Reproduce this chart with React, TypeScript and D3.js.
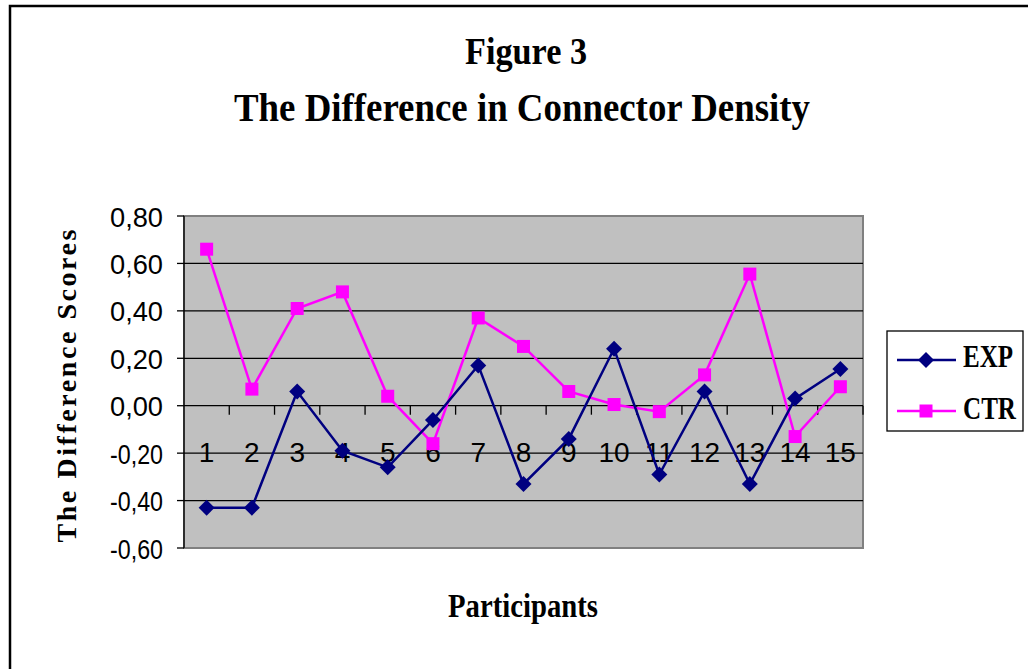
import * as d3 from 'd3';
import React from 'react';

const participants = ['1', '2', '3', '4', '5', '6', '7', '8', '9', '10', '11', '12', '13', '14', '15'];
const expScores = [-0.43, -0.43, 0.06, -0.19, -0.26, -0.06, 0.17, -0.33, -0.14, 0.24, -0.29, 0.06, -0.33, 0.03, 0.155];
const ctrScores = [0.66, 0.07, 0.41, 0.48, 0.04, -0.16, 0.37, 0.25, 0.06, 0.005, -0.025, 0.13, 0.555, -0.13, 0.08];
const yTicks = [-0.6, -0.4, -0.2, 0, 0.2, 0.4, 0.6, 0.8];

const W = 1028;
const H = 669;
const plot = { left: 184, right: 863, top: 216, bottom: 548 };
const serif = '"Liberation Serif", "DejaVu Serif", serif';
const sans = '"Liberation Sans", Arial, sans-serif';

export default function App() {
  const x = d3
    .scaleBand()
    .domain(participants)
    .range([plot.left, plot.right]);
  const y = d3.scaleLinear().domain([-0.6, 0.8]).range([plot.bottom, plot.top]);
  const fmt = (v: number) => d3.format('.2f')(v).replace('.', ',').replace('−', '-');

  const line = d3
    .line<number>()
    .x((_, i) => (x(participants[i]) as number) + x.bandwidth() / 2)
    .y((d) => y(d));

  const diamond = (cx: number, cy: number, r: number) =>
    `M${cx},${cy - r}L${cx + r},${cy}L${cx},${cy + r}L${cx - r},${cy}Z`;

  return (
    <svg width={W} height={H} style={{ position: 'absolute', left: 0, top: 0, background: '#fff' }}>
      <rect x={10} y={6} width={W + 10} height={H + 10} fill="#fff" stroke="#000" strokeWidth={2.5} />

      <text x={526} y={64} textAnchor="middle" fontFamily={serif} fontWeight="bold" fontSize={38}
        textLength={122} lengthAdjust="spacingAndGlyphs">
        Figure 3
      </text>
      <text x={522} y={121} textAnchor="middle" fontFamily={serif} fontWeight="bold" fontSize={39}
        textLength={576} lengthAdjust="spacingAndGlyphs">
        The Difference in Connector Density
      </text>

      <rect
        x={plot.left}
        y={plot.top}
        width={plot.right - plot.left}
        height={plot.bottom - plot.top}
        fill="#C0C0C0"
        stroke="#808080"
        strokeWidth={2}
      />
      {yTicks.map((t) => (
        <g key={t}>
          {t > -0.6 && t < 0.8 && (
            <line x1={plot.left} x2={plot.right} y1={y(t)} y2={y(t)} stroke="#000" strokeWidth={1.3} />
          )}
          <line x1={plot.left - 7} x2={plot.left} y1={y(t)} y2={y(t)} stroke="#000" strokeWidth={1.3} />
          <text x={163} y={y(t) + 10.5} textAnchor="end" fontFamily={sans} fontSize={28}
            textLength={53} lengthAdjust="spacingAndGlyphs">
            {fmt(t)}
          </text>
        </g>
      ))}
      <line x1={plot.left} x2={plot.left} y1={plot.top} y2={plot.bottom} stroke="#000" strokeWidth={1.3} />

      {participants.map((p, i) => (
        <g key={p}>
          {i > 0 && (
            <line x1={x(p)} x2={x(p)} y1={y(0)} y2={y(0) + 9} stroke="#000" strokeWidth={1.3} />
          )}
          <text
            x={(x(p) as number) + x.bandwidth() / 2}
            y={y(0) + 56}
            textAnchor="middle"
            fontFamily={sans}
            fontSize={28}
          >
            {p}
          </text>
        </g>
      ))}
      <line x1={plot.right} x2={plot.right} y1={y(0)} y2={y(0) + 9} stroke="#000" strokeWidth={1.3} />

      <path d={line(ctrScores) || ''} fill="none" stroke="#FF00FF" strokeWidth={2.5} />
      {ctrScores.map((v, i) => (
        <rect
          key={i}
          x={(x(participants[i]) as number) + x.bandwidth() / 2 - 6.5}
          y={y(v) - 6.5}
          width={13}
          height={13}
          fill="#FF00FF"
        />
      ))}
      <path d={line(expScores) || ''} fill="none" stroke="#000080" strokeWidth={2.5} />
      {expScores.map((v, i) => (
        <path key={i} d={diamond((x(participants[i]) as number) + x.bandwidth() / 2, y(v), 8)} fill="#000080" />
      ))}

      <text
        transform={`translate(76,386) rotate(-90)`}
        textAnchor="middle"
        fontFamily={serif}
        fontWeight="bold"
        fontSize={28}
        textLength={313}
        lengthAdjust="spacing"
      >
        The Difference Scores
      </text>
      <text x={523} y={617} textAnchor="middle" fontFamily={serif} fontWeight="bold" fontSize={33}
        textLength={150} lengthAdjust="spacingAndGlyphs">
        Participants
      </text>

      <rect x={887} y={331} width={136} height={100} fill="#fff" stroke="#000" strokeWidth={1.3} />
      <line x1={897} x2={956} y1={360} y2={360} stroke="#000080" strokeWidth={2.5} />
      <path d={diamond(926, 360, 8)} fill="#000080" />
      <text x={963} y={367} fontFamily={serif} fontWeight="bold" fontSize={31} textLength={50}
        lengthAdjust="spacingAndGlyphs">
        EXP
      </text>
      <line x1={897} x2={956} y1={411} y2={411} stroke="#FF00FF" strokeWidth={2.5} />
      <rect x={919.5} y={404.5} width={13} height={13} fill="#FF00FF" />
      <text x={963} y={419} fontFamily={serif} fontWeight="bold" fontSize={31} textLength={53}
        lengthAdjust="spacingAndGlyphs">
        CTR
      </text>
    </svg>
  );
}
